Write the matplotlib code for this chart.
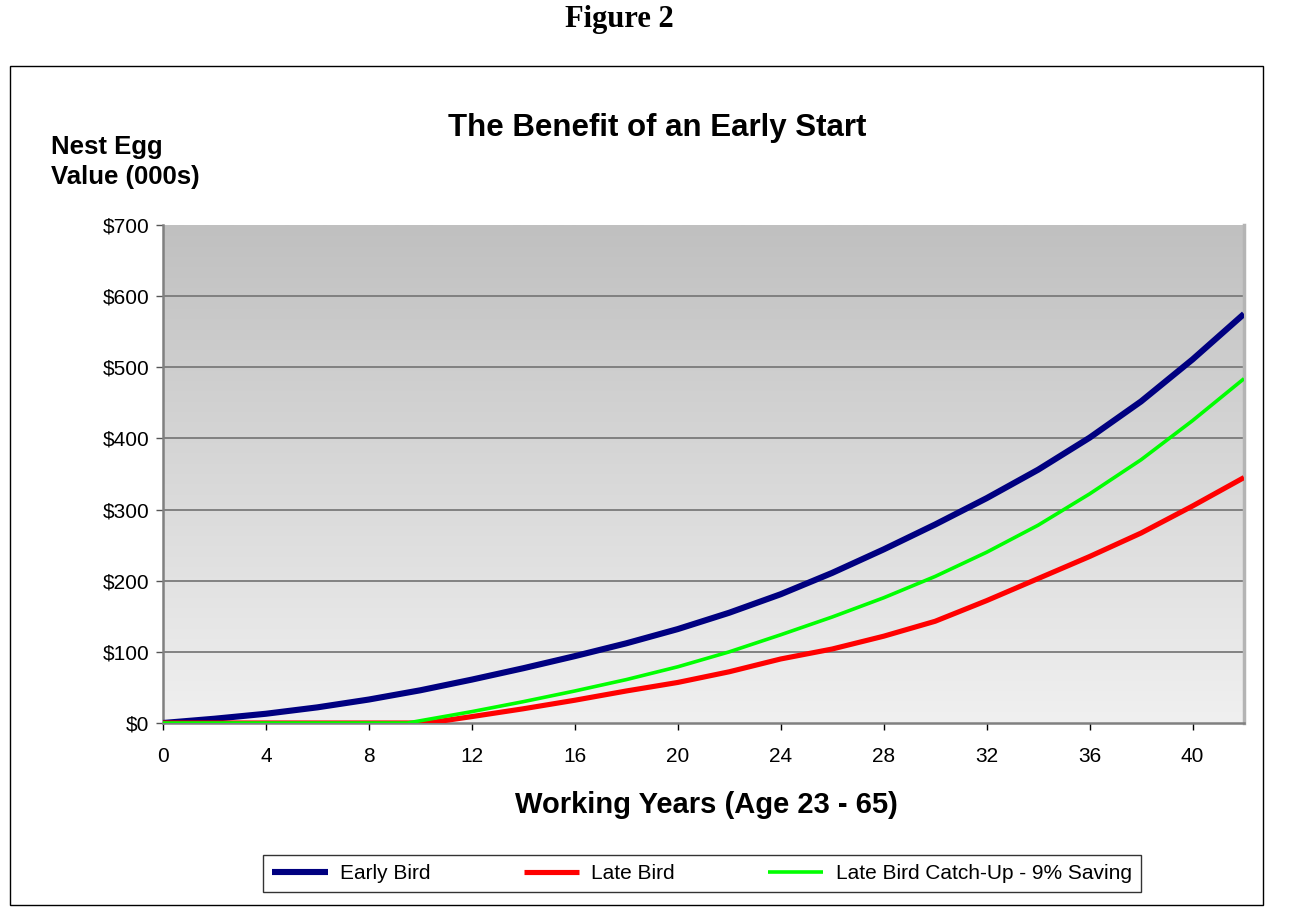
import numpy as np
import matplotlib
matplotlib.use("Agg")
import matplotlib.pyplot as plt
from matplotlib.patches import Rectangle
from matplotlib.colors import LinearSegmentedColormap

# ---- data (values in $000s) ----
years_early = [0, 2, 4, 6, 8, 10, 12, 14, 16, 18, 20, 22, 24, 26, 28, 30, 32, 34, 36, 38, 40, 42]
early_bird = [0, 6, 13, 22, 33, 46, 61, 77, 94, 112, 132, 155, 181, 211, 244, 279, 316, 356, 401, 452, 511, 575]

years_late = [0, 10.3, 12, 14, 16, 18, 20, 22, 24, 26, 28, 30, 32, 34, 36, 38, 40, 42]
late_bird = [0, 0, 9, 20, 32, 45, 57, 72, 90, 104, 122, 143, 172, 203, 234, 267, 305, 345]

years_catch = [0, 9.5, 12, 14, 16, 18, 20, 22, 24, 26, 28, 30, 32, 34, 36, 38, 40, 42]
catch_up = [0, 0, 16, 30, 45, 61, 79, 100, 124, 149, 176, 206, 240, 278, 322, 370, 425, 484]

x_ticks = [0, 4, 8, 12, 16, 20, 24, 28, 32, 36, 40]
y_ticks = [0, 100, 200, 300, 400, 500, 600, 700]
y_tick_labels = ["$0", "$100", "$200", "$300", "$400", "$500", "$600", "$700"]
series_names = ["Early Bird", "Late Bird", "Late Bird Catch-Up - 9% Saving"]

plt.rcParams['font.family'] = ['Liberation Sans', 'DejaVu Sans']

W, H = 1294, 923
fig = plt.figure(figsize=(W / 100, H / 100), dpi=100)
fig.patch.set_facecolor("white")

# outer chart border
fig.patches.append(Rectangle((10 / W, 1 - 905 / H), 1253 / W, 839 / H,
                             transform=fig.transFigure, fill=False,
                             edgecolor="black", linewidth=1.0))

ax = fig.add_axes([163 / W, 1 - 723 / H, 1081 / W, 498 / H])

# gradient background
grad = np.linspace(0, 1, 256).reshape(-1, 1)
cmap = LinearSegmentedColormap.from_list("g", ["#f0f0f0", "#c0c0c0"])
ax.imshow(grad, aspect="auto", cmap=cmap, origin="lower",
          extent=[0, 1, 0, 1], transform=ax.transAxes, zorder=0)

ax.set_xlim(0, 42)
ax.set_ylim(0, 700)

for yv in y_ticks[1:-1]:
    ax.axhline(yv, color="#7a7a7a", linewidth=1.3, zorder=1)

ax.plot(years_early, early_bird, color="#000080", linewidth=4.4,
        solid_capstyle="butt", zorder=3, label=series_names[0])
ax.plot(years_late, late_bird, color="#ff0000", linewidth=3.7,
        solid_capstyle="butt", zorder=3, label=series_names[1])
ax.plot(years_catch, catch_up, color="#00ff00", linewidth=2.6,
        solid_capstyle="butt", zorder=4, label=series_names[2])

ax.set_xticks(x_ticks)
ax.set_xticklabels([str(v) for v in x_ticks], fontsize=15)
ax.set_yticks(y_ticks)
ax.set_yticklabels(y_tick_labels, fontsize=15)
ax.tick_params(axis="x", direction="out", length=5, width=1, color="black", pad=12)
ax.tick_params(axis="y", direction="out", length=5, width=1, color="#555555", pad=5)

ax.spines["top"].set_visible(False)
ax.spines["left"].set_color("#808080")
ax.spines["left"].set_linewidth(1.8)
ax.spines["bottom"].set_color("#808080")
ax.spines["bottom"].set_linewidth(1.8)
ax.spines["right"].set_color("#b4b4b4")
ax.spines["right"].set_linewidth(2.5)

# texts
fig.text(619 / W, 1 - 20 / H, "Figure 2", ha="center", va="center",
         fontsize=22, fontweight="bold", family=["Liberation Serif", "DejaVu Serif"])
fig.text(657 / W, 1 - 128 / H, "The Benefit of an Early Start", ha="center",
         va="center", fontsize=22.5, fontweight="bold")
fig.text(51 / W, 1 - 162 / H, "Nest Egg\nValue (000s)", ha="left", va="center",
         fontsize=18.5, fontweight="bold", linespacing=1.35)
fig.text(706 / W, 1 - 805 / H, "Working Years (Age 23 - 65)", ha="center",
         va="center", fontsize=21, fontweight="bold")

leg = ax.legend(loc="center", bbox_to_anchor=(263 / W, 1 - 896 / H, 878 / W, 45 / H),
                bbox_transform=fig.transFigure, ncol=3, mode="expand",
                frameon=True, fancybox=False, edgecolor="black", fontsize=15,
                handlelength=2.65, handletextpad=0.6, borderaxespad=0,
                borderpad=0.45)
leg.get_frame().set_linewidth(1.0)

fig.savefig("out.png", dpi=100, facecolor="white")
